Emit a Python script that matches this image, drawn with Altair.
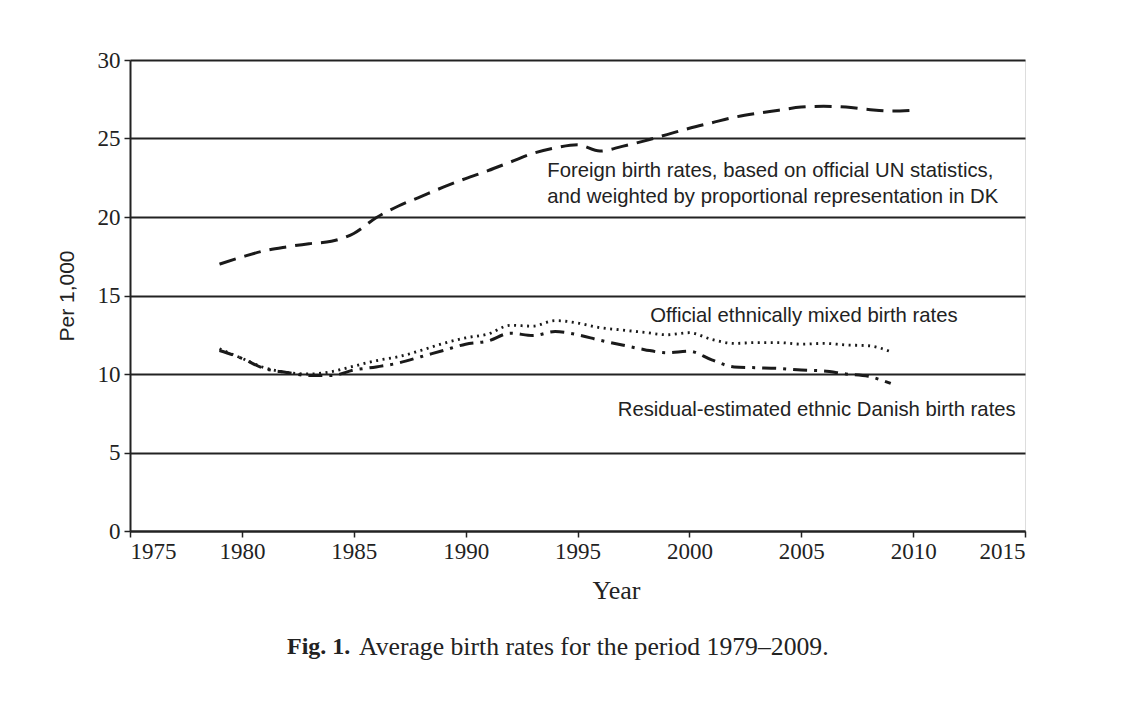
import altair as alt
import pandas as pd

years = list(range(1979, 2011))
foreign = [17.0, 17.45, 17.85, 18.1, 18.3, 18.45, 18.95, 19.95, 20.7, 21.3, 21.9,
           22.45, 22.95, 23.5, 24.05, 24.4, 24.6, 24.2, 24.5, 24.85, 25.25,
           25.65, 26.0, 26.35, 26.6, 26.8, 27.0, 27.05, 27.0, 26.85, 26.75, 26.8]
mixed_years = list(range(1979, 2010))
mixed = [11.6, 11.0, 10.4, 10.1, 10.0, 10.15, 10.5, 10.85, 11.1, 11.5, 11.95,
         12.3, 12.55, 13.1, 13.05, 13.4, 13.25, 12.95, 12.8, 12.65, 12.5,
         12.63, 12.2, 11.95, 12.0, 12.0, 11.9, 11.95, 11.85, 11.8, 11.42]
residual = [11.5, 11.0, 10.35, 10.1, 9.9, 9.9, 10.25, 10.45, 10.7, 11.1, 11.5,
            11.9, 12.1, 12.6, 12.45, 12.7, 12.5, 12.15, 11.85, 11.55, 11.35,
            11.45, 10.9, 10.45, 10.4, 10.35, 10.25, 10.2, 10.0, 9.85, 9.4]

labels = ["Foreign birth rates, based on official UN statistics,",
          "and weighted by proportional representation in DK",
          "Official ethnically mixed birth rates",
          "Residual-estimated ethnic Danish birth rates"]
label_x = [1993.65, 1993.65, 1998.25, 1996.8]
label_y = [22.93, 21.27, 13.69, 7.71]

df_f = pd.DataFrame({"Year": years, "Rate": foreign})
df_m = pd.DataFrame({"Year": mixed_years, "Rate": mixed})
df_r = pd.DataFrame({"Year": mixed_years, "Rate": residual})
df_lab = pd.DataFrame({"x": label_x, "y": label_y, "text": labels})

W, H = 895, 471
xscale = alt.Scale(domain=[1975, 2015], nice=False, zero=False)
yscale = alt.Scale(domain=[0, 30], nice=False)

xax = alt.Axis(values=list(range(1975, 2016, 5)), format="d", grid=False,
               title="Year", titleFont="Liberation Serif", titleFontSize=26,
               titleFontWeight="normal", titleColor="#222", titlePadding=14,
               titleX=486, titleAlign="center",
               labelFont="Liberation Serif", labelFontSize=23, labelColor="#222",
               labelPadding=3, tickSize=6, tickColor="#222", tickWidth=1.5,
               domainColor="#222", domainWidth=2)
yax = alt.Axis(values=list(range(0, 31, 5)), grid=True, gridColor="#222", gridWidth=2,
               title="Per 1,000", titleFont="Liberation Sans", titleFontSize=21,
               titleFontWeight="normal", titleColor="#222", titlePadding=20,
               labelFont="Liberation Serif", labelFontSize=23, labelColor="#222",
               labelPadding=4, tickSize=6, tickColor="#222", tickWidth=1.5,
               domainColor="#222", domainWidth=2)

def line(df, dash, width):
    return alt.Chart(df).mark_line(color="#1a1a1a", strokeWidth=width, strokeDash=dash,
                                   interpolate="monotone").encode(
        x=alt.X("Year:Q", scale=xscale, axis=xax),
        y=alt.Y("Rate:Q", scale=yscale, axis=yax),
    )

lf = line(df_f, [17, 9], 3)
lm = line(df_m, [2, 4.5], 2.8)
lr = line(df_r, [14, 7, 3, 7], 3)

txt = alt.Chart(df_lab).mark_text(align="left", baseline="middle", font="Liberation Sans",
                                  fontSize=20.3, color="#222").encode(
    x=alt.X("x:Q", scale=xscale), y=alt.Y("y:Q", scale=yscale), text="text:N")

cap1 = alt.Chart(pd.DataFrame({"t": ["Fig. 1."]})).mark_text(
    align="left", baseline="middle", font="Liberation Serif", fontSize=24,
    fontWeight="bold", color="#222").encode(x=alt.value(157), y=alt.value(587), text="t:N")
cap2 = alt.Chart(pd.DataFrame({"t": ["Average birth rates for the period 1979–2009."]})).mark_text(
    align="left", baseline="middle", font="Liberation Serif", fontSize=25.7,
    color="#222").encode(x=alt.value(229), y=alt.value(587), text="t:N")

chart = alt.layer(lf, lm, lr, txt, cap1, cap2).properties(
    width=W, height=H,
    autosize=alt.AutoSizeParams(type="none"),
    padding={"left": 122, "top": 52, "right": 90, "bottom": 150},
).configure_view(stroke=None).configure(background="white")

chart.save("out.html", embed_options={"renderer": "svg", "actions": False})
